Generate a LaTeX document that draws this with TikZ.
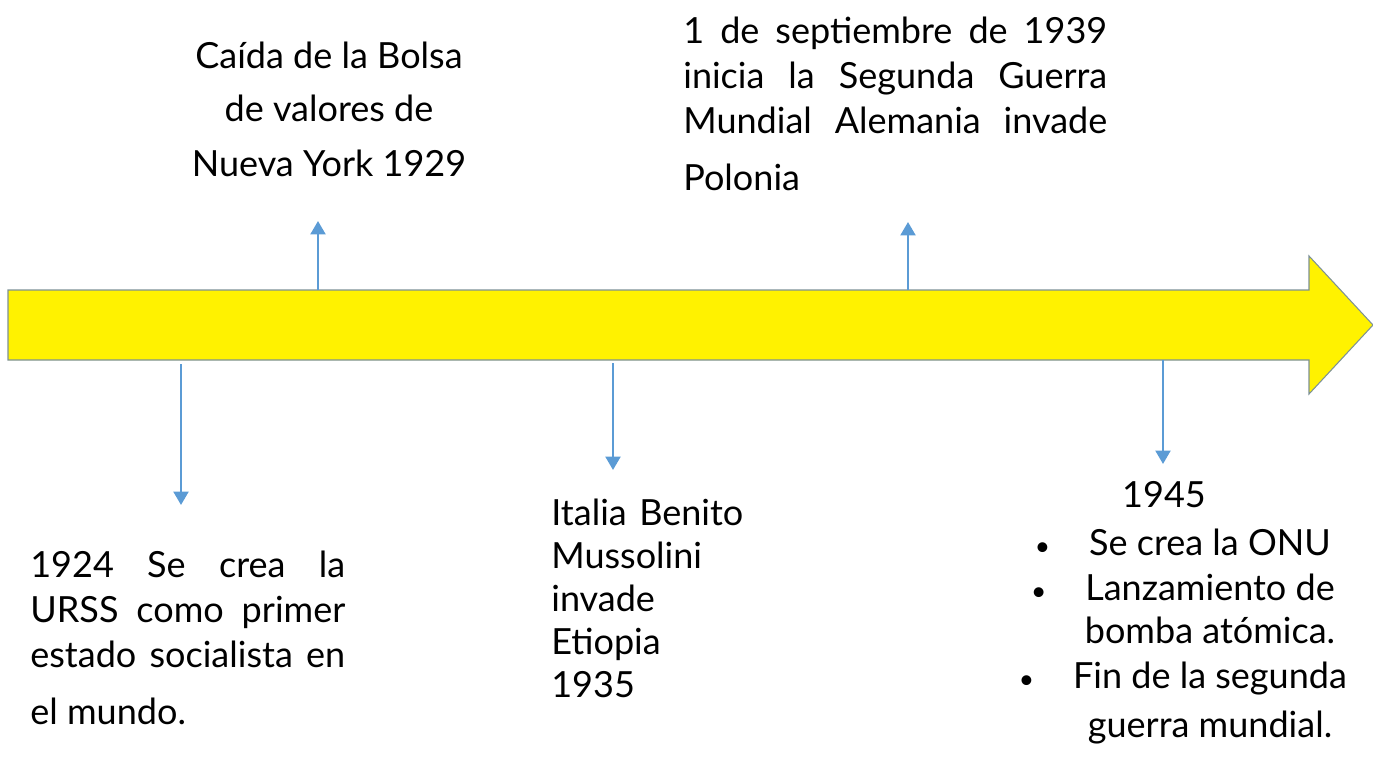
\documentclass[tikz,border=0pt]{standalone}
\usepackage{fontspec}
\setmainfont{Lato}
\usetikzlibrary{arrows.meta}
\definecolor{flechaazul}{RGB}{91,155,213}
\definecolor{bordegris}{RGB}{125,145,150}
\newcommand{\vineta}{\llap{{\fontsize{15}{15}\selectfont\textbullet}\hspace{0.78cm}}}

\begin{document}
\begin{tikzpicture}[x=0.02cm,y=-0.02cm]
\tikzstyle{every node}+=[inner sep=0pt]
\tikzstyle{evento}=[font=\fontsize{20.5}{25.6}\selectfont, align=left]
\tikzstyle{flecha}=[draw=flechaazul, line width=1.4pt, -{Triangle[width=0.3cm,length=0.27cm]}]
\useasboundingbox (0,0) rectangle (1373,757);
\draw [bordegris, fill=yellow, line width=0.6pt] (8,290) -- (1309,290) -- (1309,256) -- (1373,325) -- (1309,394) -- (1309,360) -- (8,360) -- cycle;
\coordinate (bolsa1) at (318,290);
\coordinate (bolsa2) at (318,221);
\coordinate (guerra1) at (908,290);
\coordinate (guerra2) at (908,222);
\coordinate (urss1) at (181,364);
\coordinate (urss2) at (181,505);
\coordinate (italia1) at (613,363);
\coordinate (italia2) at (613,470);
\coordinate (onu1) at (1163,360);
\coordinate (onu2) at (1163,464);
\node [evento, anchor=north, align=center] (bolsa) at (329,42) {Caída de la Bolsa\\[0.16cm] de valores de\\[0.2cm] Nueva York 1929};
\node [evento, anchor=north west] (guerra) at (683,17) {\makebox[8.48cm][s]{1 de septiembre de 1939}\\ \makebox[8.48cm][s]{inicia la Segunda Guerra}\\ \makebox[8.48cm][s]{Mundial Alemania invade}\\[0.24cm] Polonia};
\node [evento, anchor=north west] (urss) at (30,551) {\makebox[6.3cm][s]{1924 Se crea la}\\ \makebox[6.3cm][s]{URSS como primer}\\ \makebox[6.3cm][s]{estado socialista en}\\[0.24cm] el mundo.};
\node [evento, anchor=north west] (italia) at (551,499) {\makebox[3.84cm][s]{Italia Benito}\\[-0.04cm] Mussolini\\[-0.04cm] invade\\[-0.04cm] Etiopia\\[-0.04cm] 1935};
\node [evento, anchor=north, align=center] (onu) at (1210,481) {1945\hspace*{1.84cm}\\[0.06cm] \vineta Se crea la ONU\\ \vineta Lanzamiento de\\[-0.04cm] bomba atómica.\\ \vineta Fin de la segunda\\[0.08cm] guerra mundial.};
\draw [flecha] (bolsa1) -- (bolsa2);
\draw [flecha] (guerra1) -- (guerra2);
\draw [flecha] (urss1) -- (urss2);
\draw [flecha] (italia1) -- (italia2);
\draw [flecha] (onu1) -- (onu2);
\end{tikzpicture}
\end{document}
